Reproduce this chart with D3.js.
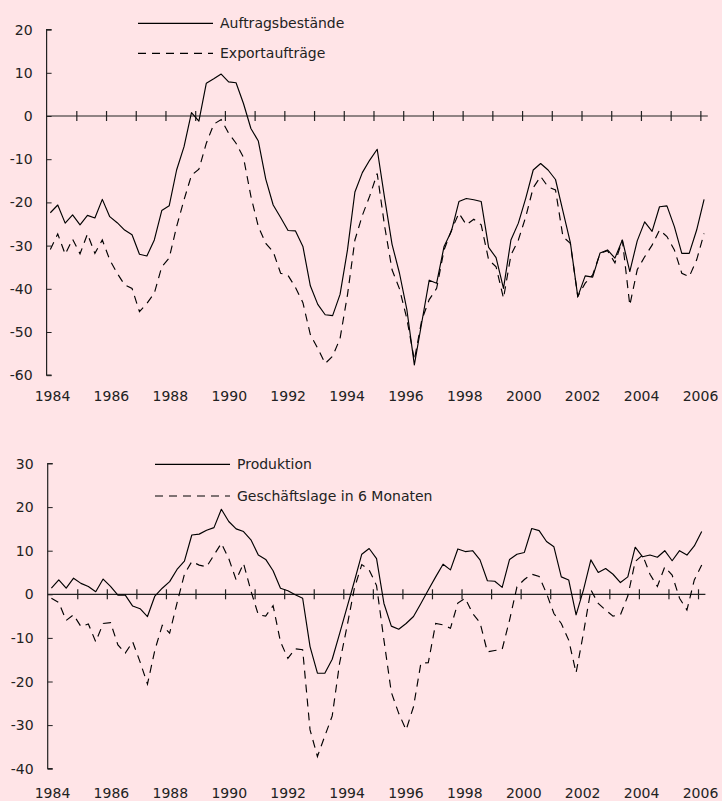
<!DOCTYPE html>
<html><head><meta charset="utf-8">
<script src="https://cdn.jsdelivr.net/npm/d3@7"></script>
<style>
html,body{margin:0;padding:0;background:#FFE4E7;}
svg{display:block;font-family:"DejaVu Sans",sans-serif;}
</style></head>
<body><svg id="c" width="722" height="801"></svg>
<script>
// Quarterly data 1984Q1 .. 2006Q1 (89 quarters)
const years = [1984,1986,1988,1990,1992,1994,1996,1998,2000,2002,2004,2006];
const auftragsbestaende = [-22.4,-20.6,-24.8,-22.9,-25.2,-23.0,-23.6,-19.3,-23.3,-24.7,-26.4,-27.5,-32.0,-32.4,-28.7,-21.9,-20.8,-12.5,-7.1,0.8,-1.2,7.6,8.6,9.7,7.9,7.7,2.9,-2.9,-5.8,-14.6,-20.6,-23.5,-26.5,-26.6,-30.2,-39.3,-43.6,-46.0,-46.2,-41.3,-31.0,-17.6,-13.1,-10.2,-7.7,-19.0,-29.7,-36.4,-44.9,-57.6,-47.8,-38.0,-38.7,-30.2,-26.6,-19.8,-19.1,-19.4,-19.8,-30.4,-32.8,-39.9,-28.7,-24.8,-19.0,-12.5,-11.0,-12.5,-14.7,-22.0,-29.3,-41.8,-37.0,-37.3,-31.7,-31.0,-32.9,-28.7,-36.0,-28.9,-24.5,-26.7,-21.0,-20.8,-25.6,-31.8,-31.8,-26.4,-19.3];
const exportauftraege = [-30.9,-27.3,-32.0,-28.5,-31.9,-27.3,-31.8,-28.7,-33.3,-36.4,-39.1,-39.9,-45.3,-43.4,-41.0,-34.9,-32.9,-25.6,-19.4,-13.7,-12.3,-6.3,-1.9,-0.8,-4.0,-6.3,-9.6,-18.6,-25.6,-29.5,-31.4,-36.4,-36.9,-39.7,-43.2,-50.6,-53.8,-57.3,-55.6,-51.5,-41.4,-28.7,-23.0,-18.5,-13.3,-25.5,-35.6,-40.0,-47.0,-56.5,-47.2,-42.5,-39.9,-31.0,-26.4,-22.5,-25.2,-23.9,-25.2,-33.3,-34.9,-42.2,-32.2,-28.7,-23.3,-16.6,-14.0,-16.4,-17.1,-27.9,-29.5,-41.8,-38.7,-36.8,-31.8,-31.2,-34.0,-28.7,-43.8,-35.6,-32.6,-29.9,-26.4,-27.9,-31.0,-36.4,-37.2,-33.3,-27.2];
const produktion = [1.4,3.3,1.4,3.7,2.5,1.8,0.6,3.5,1.8,-0.2,-0.2,-2.7,-3.3,-5.1,-0.4,1.4,2.9,5.7,7.6,13.6,13.8,14.7,15.3,19.5,16.7,15.0,14.4,12.5,9.0,8.0,5.4,1.4,0.8,-0.1,-0.9,-12.0,-18.1,-18.1,-14.9,-9.0,-3.0,3.0,9.2,10.5,8.2,-2.1,-7.3,-8.0,-6.7,-5.1,-2.1,1.0,4.0,6.9,5.6,10.4,9.8,10.0,7.9,3.1,3.0,1.6,8.0,9.2,9.6,15.1,14.6,12.1,10.9,4.0,3.3,-4.7,1.0,7.9,5.0,5.9,4.6,2.7,4.0,10.8,8.6,9.0,8.5,10.0,7.7,10.0,9.0,11.1,14.4];
const geschaeftslage = [-0.9,-1.9,-6.0,-4.7,-7.4,-6.8,-10.9,-6.7,-6.5,-11.6,-13.5,-10.9,-15.5,-20.6,-12.8,-7.1,-8.9,-2.0,4.6,7.5,6.7,6.3,9.0,11.7,8.2,3.3,7.1,0.8,-4.7,-5.0,-2.6,-10.9,-14.7,-12.5,-12.7,-31.1,-37.2,-32.5,-27.9,-15.8,-7.4,1.4,6.8,5.6,2.0,-10.5,-22.5,-27.3,-31.1,-25.8,-15.8,-15.7,-6.7,-7.0,-7.8,-2.0,-0.9,-4.4,-6.5,-13.2,-12.9,-12.6,-5.9,1.7,3.4,4.6,4.1,0.2,-4.4,-6.7,-10.5,-18.0,-8.9,1.0,-2.1,-3.6,-5.0,-4.7,-0.4,7.5,9.0,4.6,1.8,6.3,4.4,-0.9,-3.6,3.3,6.7];

const topTicks = [20,10,0,-10,-20,-30,-40,-50,-60];
const bottomTicks = [30,20,10,0,-10,-20,-30,-40];
const topLegend = ["Auftragsbestände","Exportaufträge"];
const bottomLegend = ["Produktion","Geschäftslage in 6 Monaten"];

const svg = d3.select("#c");
const ink = "#222";

function panel(o){
  const g = svg.append("g");
  const n = o.s1.length;
  const x = d3.scaleLinear().domain([0, n]).range([o.x0, o.x1]);
  const y = d3.scaleLinear().domain(o.domain).range(o.yrange);
  // y axis
  const yAxis = d3.axisRight(y).tickValues(o.ticks).tickSize(5).tickFormat("");
  const ya = g.append("g").attr("transform",`translate(${o.x0},0)`).call(yAxis);
  ya.select(".domain").attr("stroke",ink).attr("stroke-width",1.2).attr("d",`M5,${o.yrange[1]}H0V${o.yrange[0]}H5`);
  ya.selectAll(".tick line").attr("stroke",ink);
  g.selectAll("text.ylab").data(o.ticks).join("text")
    .attr("x",o.x0-14).attr("y",d=>y(d)+5).attr("text-anchor","end")
    .attr("font-size",14).attr("fill",ink).text(d=>d);
  // zero line with category ticks every 4 quarters
  const tv = d3.range(4, n, 4);
  const xa = g.append("g").attr("transform",`translate(0,${y(0)})`)
    .call(d3.axisBottom(x).tickValues(tv).tickSize(0).tickFormat(""));
  xa.select(".domain").attr("stroke",ink).attr("stroke-width",1.2).attr("d",`M${o.x0},0H${x(n)}`);
  xa.selectAll(".tick").append("line").attr("y1",-5).attr("y2",5).attr("stroke",ink).attr("stroke-width",1.2);
  // year labels
  const xl = d3.scalePoint().domain(years).range(o.labelRange);
  g.selectAll("text.xlab").data(years).join("text")
    .attr("x",d=>xl(d)).attr("y",o.labelY).attr("text-anchor","middle")
    .attr("font-size",14).attr("fill",ink).text(d=>d);
  // series
  const line = d3.line().x((d,i)=>x(i+0.5)).y(d=>y(d));
  g.append("path").datum(o.s1).attr("d",line).attr("fill","none").attr("stroke","#000").attr("stroke-width",1.15).attr("stroke-linejoin","round");
  g.append("path").datum(o.s2).attr("d",line).attr("fill","none").attr("stroke","#000").attr("stroke-width",1.15).attr("stroke-dasharray","8,6");
  // legend
  o.legend.forEach((t,k)=>{
    const ly = o.legY[k];
    g.append("line").attr("x1",o.legX).attr("x2",o.legX+75).attr("y1",ly).attr("y2",ly)
      .attr("stroke","#000").attr("stroke-width",1.15).attr("stroke-dasharray",k?"8,6":null);
    g.append("text").attr("x",o.legX+82).attr("y",ly+5).attr("font-size",14).attr("fill",ink).text(t);
  });
}

panel({s1:auftragsbestaende,s2:exportauftraege,domain:[-60,20],yrange:[375.2,29.6],
  x0:46.6,x1:707.8,ticks:topTicks,labelRange:[52.5,700.5],labelY:401,
  legend:topLegend,legX:138,legY:[23.3,53.3]});
panel({s1:produktion,s2:geschaeftslage,domain:[-40,30],yrange:[768.7,463.5],
  x0:47.7,x1:705.4,ticks:bottomTicks,labelRange:[52.5,700.5],labelY:798,
  legend:bottomLegend,legX:155,legY:[464.3,496]});
</script></body></html>
